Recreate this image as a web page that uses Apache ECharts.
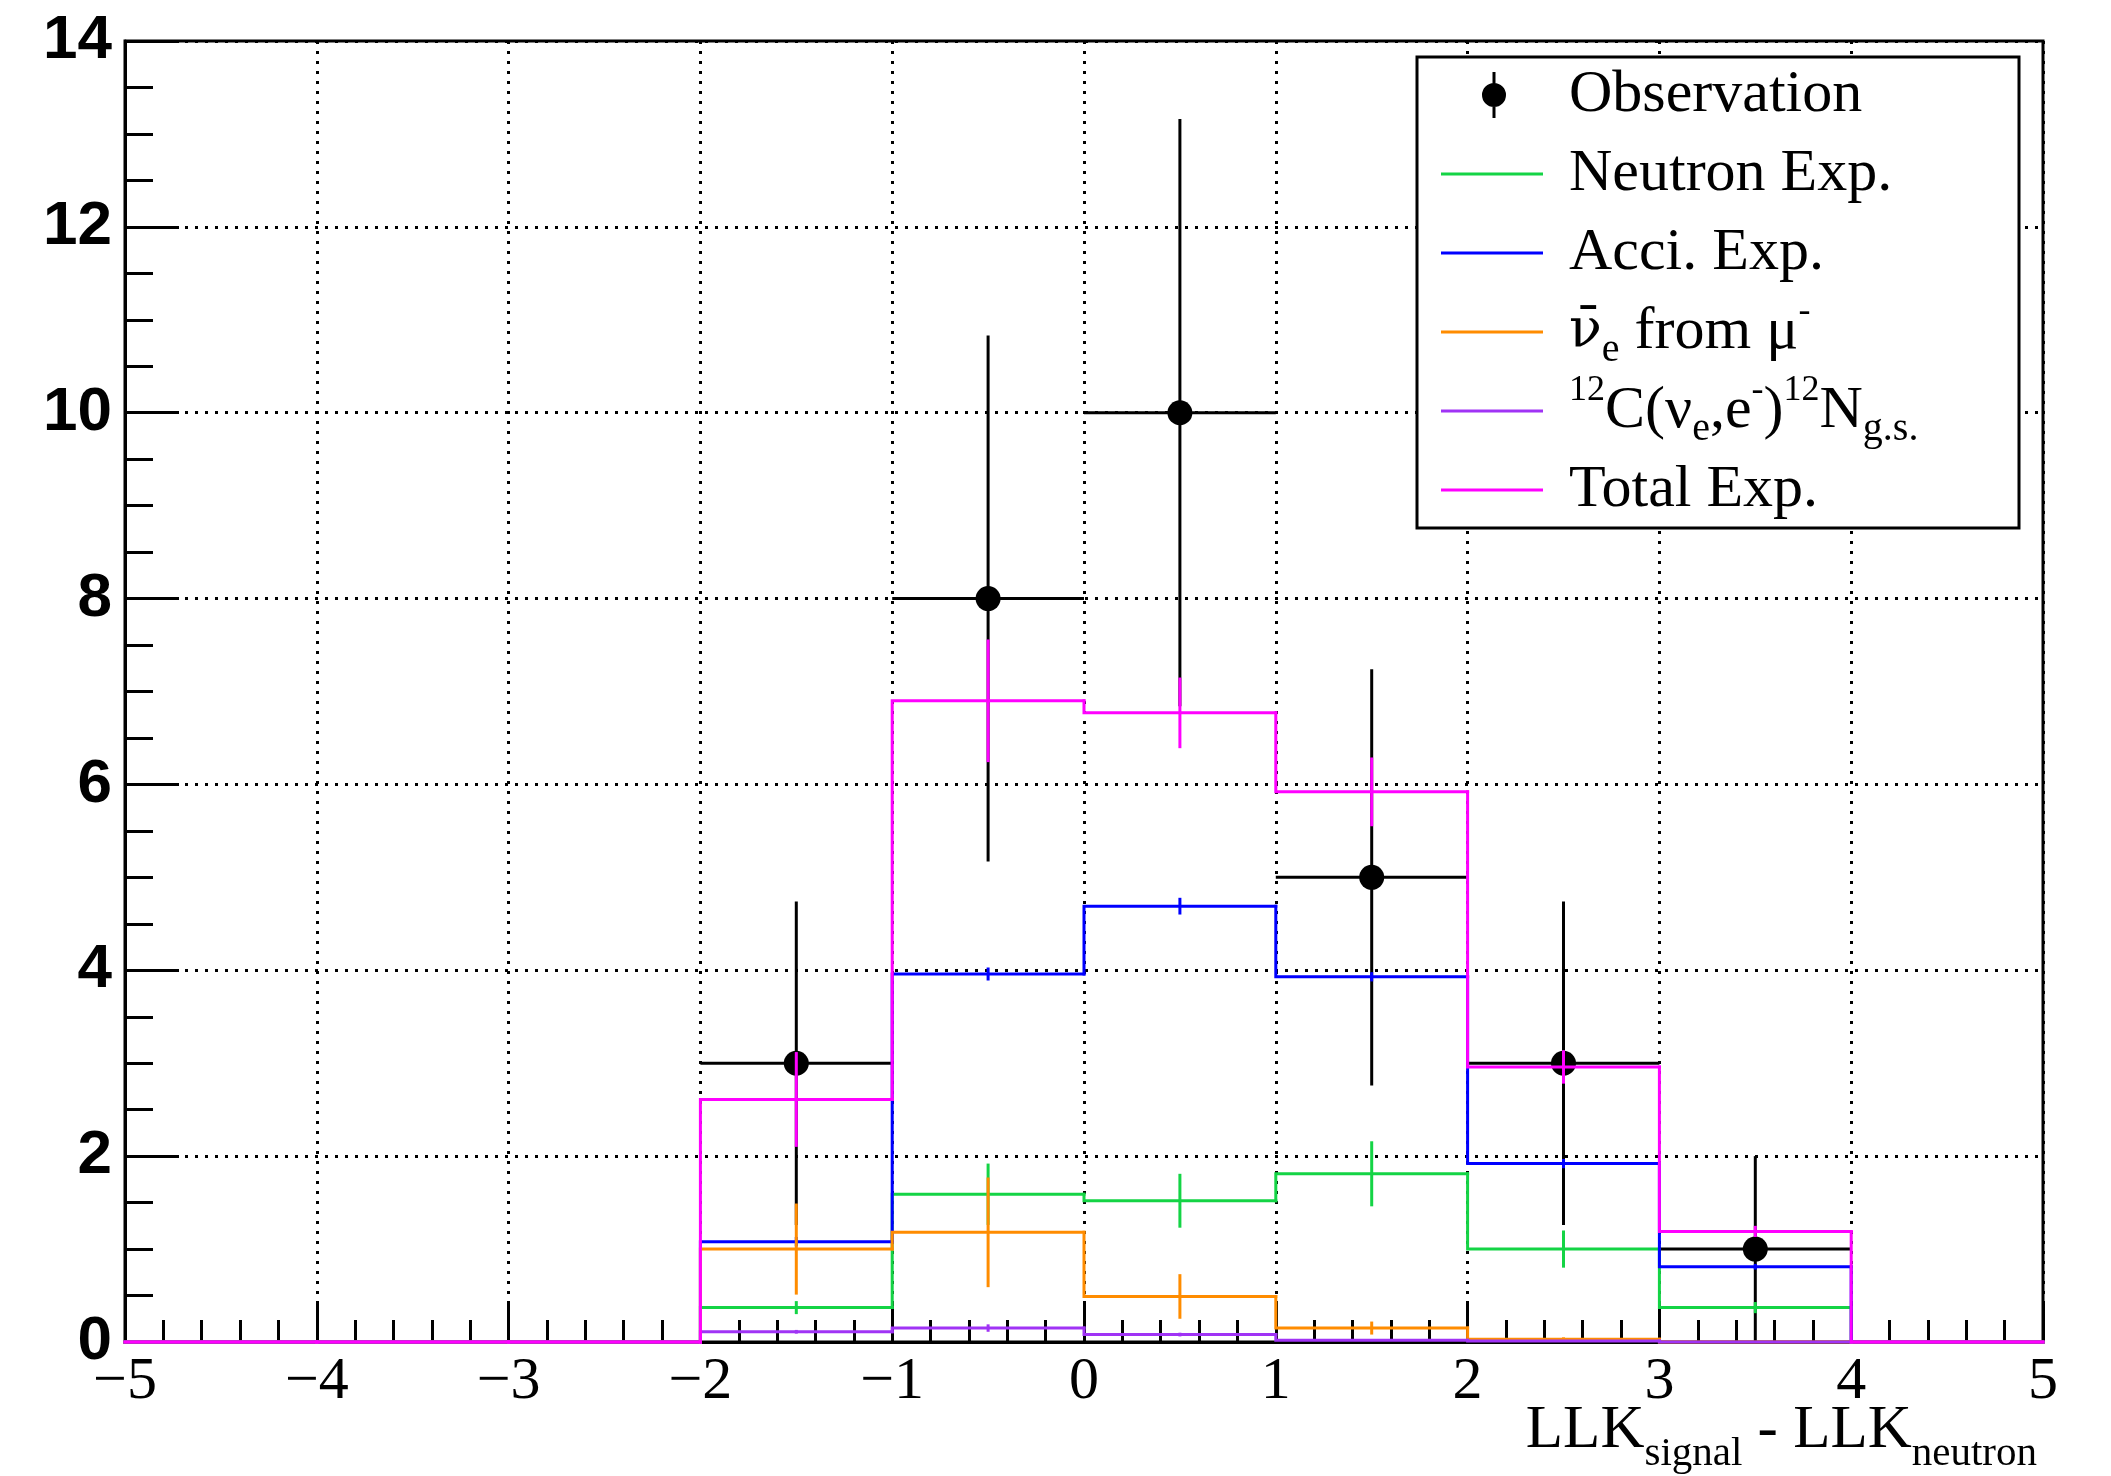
<!DOCTYPE html>
<html><head><meta charset="utf-8">
<script src="https://cdn.jsdelivr.net/npm/echarts@6/dist/echarts.min.js"></script>
<style>html,body{margin:0;padding:0;background:#fff}#c{width:2111px;height:1476px}</style>
</head><body><div id="c"></div>
<script>
// ---- data ----
const binLow  = [-5,-4,-3,-2,-1,0,1,2,3,4];
const binHigh = [-4,-3,-2,-1,0,1,2,3,4,5];
const neutronExp = [0,0,0,0.37,1.59,1.52,1.81,1.00,0.37,0];
const neutronErr = [0,0,0,0.07,0.33,0.29,0.35,0.20,0.06,0];
const acciExp    = [0,0,0,1.08,3.96,4.69,3.93,1.92,0.81,0];
const acciErr    = [0,0,0,0.05,0.07,0.09,0.05,0.05,0.03,0];
const nuebarExp  = [0,0,0,1.00,1.18,0.49,0.15,0.03,0,0];
const nuebarErr  = [0,0,0,0.49,0.59,0.24,0.07,0.02,0,0];
const c12Exp     = [0,0,0,0.11,0.15,0.08,0.02,0.01,0,0];
const c12Err     = [0,0,0,0.02,0.04,0.02,0.01,0,0,0];
const totalExp   = [0,0,0,2.61,6.90,6.77,5.92,2.96,1.19,0];
const totalErr   = [0,0,0,0.51,0.66,0.38,0.37,0.18,0.06,0];
const obsLow  = [-2,-1,0,1,2,3];
const obsHigh = [-1,0,1,2,3,4];
const obsY    = [3,8,10,5,3,1];
const obsErr  = [1.74,2.83,3.16,2.24,1.74,1.00];
const xTickLabels = {'-5':'\u22125','-4':'\u22124','-3':'\u22123','-2':'\u22122','-1':'\u22121','0':'0','1':'1','2':'2','3':'3','4':'4','5':'5'};
const legendLabels = {
  'Observation':'Observation',
  'Neutron Exp.':'Neutron Exp.',
  'Acci. Exp.':'Acci. Exp.',
  'nuebar':'{nu|\u03bd\u0304}{sub|e} from \u03bc{sup|-}',
  'c12':'{sup|12}C(\u03bd{sub|e},e{sup|-}){sup|12}N{sub|g.s.}',
  'Total Exp.':'Total Exp.'
};

const SERIF = 'Liberation Serif';
const colors = {green:'#14d445', blue:'#0000ff', orange:'#ff8c00', purple:'#a033f5', magenta:'#ff00ff'};

function histData(vals, errs){
  return vals.map((v,i)=>[binLow[i], binHigh[i], v, errs[i], i>0 ? vals[i-1] : 0]);
}
function histSeries(name, vals, errs, color, z){
  return {
    name, type:'custom', z, clip:false,
    itemStyle:{color},
    encode:{x:[0,1], y:2},
    data: histData(vals, errs),
    renderItem(params, api){
      const x0=api.value(0), x1=api.value(1), v=api.value(2), e=api.value(3), pv=api.value(4);
      const pP=api.coord([x0,pv]), pL=api.coord([x0,v]), pR=api.coord([x1,v]);
      const ch=[{type:'polyline', shape:{points:[pP,pL,pR]},
        style:{stroke:color, lineWidth:3, fill:null, lineJoin:'miter', lineCap:'square'}}];
      if(e>0){
        const xc=(x0+x1)/2, a=api.coord([xc,v-e]), b=api.coord([xc,v+e]);
        ch.push({type:'line', shape:{x1:a[0],y1:a[1],x2:b[0],y2:b[1]}, style:{stroke:color,lineWidth:3}});
      }
      return {type:'group', children:ch};
    }
  };
}
const obsSeries = {
  name:'Observation', type:'custom', z:2, clip:false,
  itemStyle:{color:'#000'},
  encode:{x:[0,1], y:2},
  data: obsY.map((y,i)=>[obsLow[i], obsHigh[i], y, obsErr[i]]),
  renderItem(params, api){
    const xl=api.value(0), xh=api.value(1), y=api.value(2), e=api.value(3), xc=(xl+xh)/2;
    const L=api.coord([xl,y]), R=api.coord([xh,y]), T=api.coord([xc,y+e]), B=api.coord([xc,y-e]), C=api.coord([xc,y]);
    return {type:'group', children:[
      {type:'line', shape:{x1:L[0],y1:L[1],x2:R[0],y2:R[1]}, style:{stroke:'#000',lineWidth:3}},
      {type:'line', shape:{x1:T[0],y1:T[1],x2:B[0],y2:B[1]}, style:{stroke:'#000',lineWidth:3}},
      {type:'circle', shape:{cx:C[0],cy:C[1],r:12.5}, style:{fill:'#000'}}
    ]};
  }
};

const lineIcon = 'path://M0,0L0,0.01L0.01,0Z M0,21.5L102,21.5L102,24.5L0,24.5Z M102,46L102,45.99L101.99,46Z';
const obsIcon  = 'path://M0,0L0,0.01L0.01,0Z M51.5,0L54.5,0L54.5,46L51.5,46Z M41,23A12,12 0 1,1 65,23A12,12 0 1,1 41,23Z M102,46L102,45.99L101.99,46Z';

const chart = echarts.init(document.getElementById('c'), null, {renderer:'canvas'});
chart.setOption({
  animation:false,
  backgroundColor:'#fff',
  grid:{left:125, right:68, top:41, bottom:134, show:true, borderColor:'#000', borderWidth:3,
    containLabel:false, outerBoundsMode:'none'},
  xAxis:{
    type:'value', min:-5, max:5, interval:1,
    axisLine:{show:true, onZero:false, lineStyle:{color:'#000', width:3}},
    axisTick:{show:true, inside:true, length:39, lineStyle:{color:'#000', width:3}},
    minorTick:{show:true, splitNumber:5, length:22, lineStyle:{color:'#000', width:3}},
    splitLine:{show:true, lineStyle:{color:'#000', width:3, type:[3,7]}},
    axisLabel:{fontFamily:SERIF, fontSize:60, color:'#000', margin:10, interval:0,
      formatter:v=>xTickLabels[String(v)]},
    name:'LLK{sub|signal} - LLK{sub|neutron}',
    nameLocation:'end', nameGap:-6, nameMoveOverlap:false,
    nameTextStyle:{fontFamily:SERIF, fontSize:61, lineHeight:60, color:'#000', align:'right', verticalAlign:'top',
      padding:[59,0,0,0],
      rich:{sub:{fontFamily:SERIF, fontSize:41, lineHeight:60, padding:[46,0,0,0], color:'#000'}}}
  },
  yAxis:{
    type:'value', min:0, max:14, interval:2,
    axisLine:{show:true, onZero:false, lineStyle:{color:'#000', width:3}},
    axisTick:{show:true, inside:true, length:54, lineStyle:{color:'#000', width:3}},
    minorTick:{show:true, splitNumber:4, length:28, lineStyle:{color:'#000', width:3}},
    splitLine:{show:true, lineStyle:{color:'#000', width:3, type:[3,7]}},
    axisLabel:{fontFamily:'Liberation Sans', fontWeight:'bold', fontSize:62, color:'#000', margin:13}
  },
  legend:{
    orient:'vertical', left:1417, top:57,
    padding:[0,30,0,24],
    itemWidth:102, itemHeight:46, itemGap:3.0,
    backgroundColor:'#fff', borderColor:'#000', borderWidth:3,
    selectedMode:false,
    formatter:n=>legendLabels[n],
    textStyle:{fontFamily:SERIF, fontSize:60, lineHeight:76, color:'#000', width:420, padding:[0,0,0,21],
      rich:{
        nu:{fontFamily:'DejaVu Serif', fontSize:54, color:'#000'},
        sup:{fontFamily:SERIF, fontSize:36, verticalAlign:'top', color:'#000'},
        sub:{fontFamily:SERIF, fontSize:40, verticalAlign:'bottom', color:'#000'}
      }},
    data:[
      {name:'Observation', icon:obsIcon},
      {name:'Neutron Exp.', icon:lineIcon},
      {name:'Acci. Exp.', icon:lineIcon},
      {name:'nuebar', icon:lineIcon},
      {name:'c12', icon:lineIcon},
      {name:'Total Exp.', icon:lineIcon}
    ]
  },
  series:[
    obsSeries,
    histSeries('Neutron Exp.', neutronExp, neutronErr, colors.green, 3),
    histSeries('Acci. Exp.', acciExp, acciErr, colors.blue, 4),
    histSeries('nuebar', nuebarExp, nuebarErr, colors.orange, 5),
    histSeries('c12', c12Exp, c12Err, colors.purple, 6),
    histSeries('Total Exp.', totalExp, totalErr, colors.magenta, 7)
  ]
});
</script></body></html>
